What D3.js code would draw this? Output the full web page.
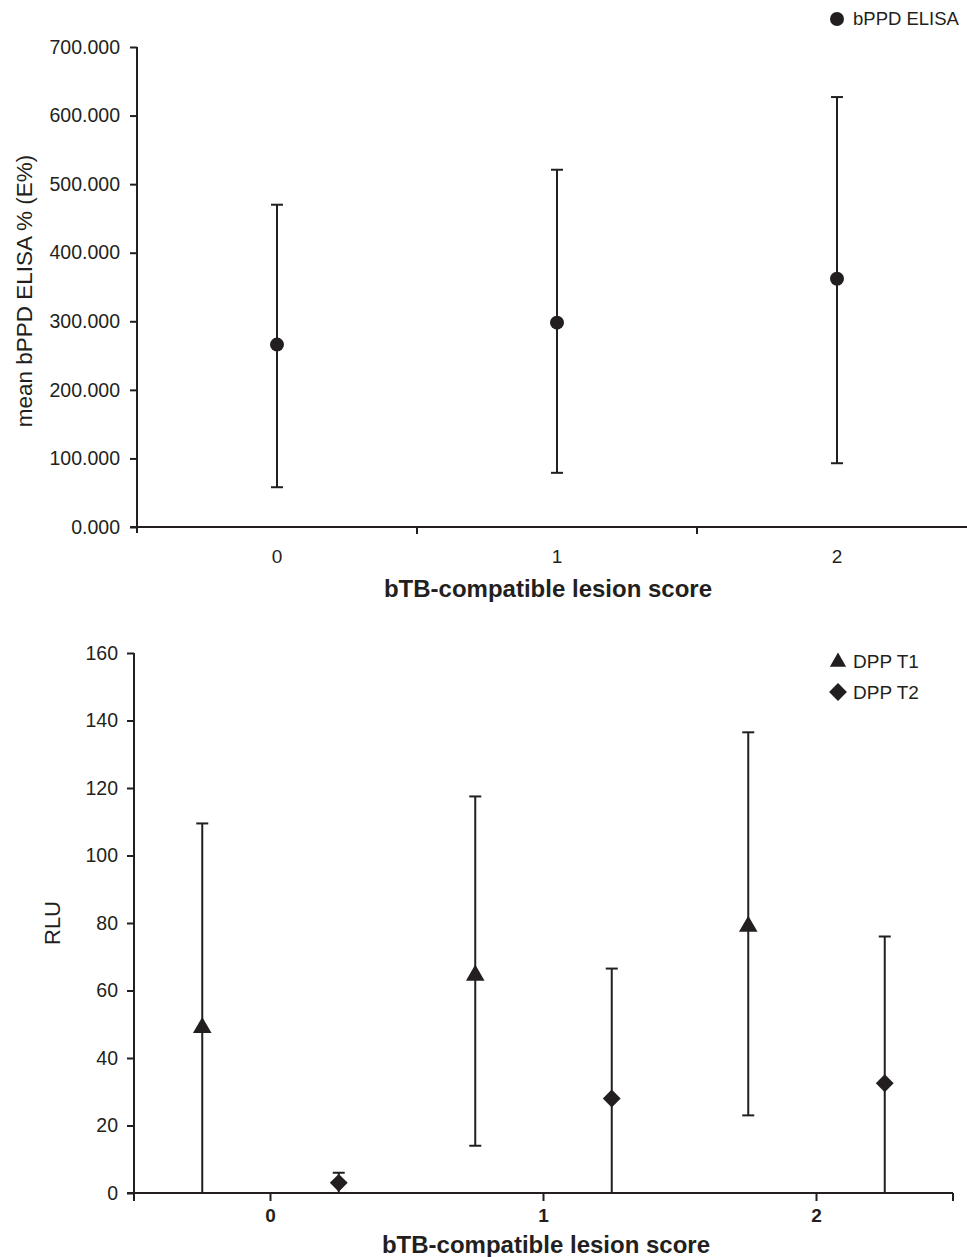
<!DOCTYPE html>
<meta charset="utf-8">
<style>
body { margin: 0; background: #fff; }
text { font-family: "Liberation Sans", Arial, sans-serif; fill: #231f20; }
.axis path, .axis line { stroke: #231f20; stroke-width: 2px; }
.err { stroke: #231f20; stroke-width: 2px; fill: none; }
</style>
<svg width="967" height="1257"></svg>
<script src="https://d3js.org/d3.v7.min.js"></script>
<script>
// lesion score categories
var scores = ["0", "1", "2"];

// top panel: bPPD ELISA
var elisaMean = [266, 298, 362];
var elisaUpper = [470, 521, 627];
var elisaLower = [58, 79, 93];
var elisaTicks = [0, 100, 200, 300, 400, 500, 600, 700];

// bottom panel: DPP T1 / T2 (RLU)
var t1Mean = [49, 64.5, 79];
var t1Upper = [109.5, 117.5, 136.5];
var t1Lower = [0, 14, 23];
var t2Mean = [3, 28, 32.5];
var t2Upper = [6, 66.5, 76];
var t2Lower = [0, 0, 0];
var rluTicks = [0, 20, 40, 60, 80, 100, 120, 140, 160];

var svg = d3.select("svg");
var ink = "#231f20";

function errBar(g, x, lo, hi, y, cap) {
  g.append("line").attr("class", "err")
    .attr("x1", x).attr("x2", x).attr("y1", y(lo)).attr("y2", y(hi));
  g.append("line").attr("class", "err")
    .attr("x1", x - cap).attr("x2", x + cap).attr("y1", y(hi)).attr("y2", y(hi));
  if (lo > 0) g.append("line").attr("class", "err")
    .attr("x1", x - cap).attr("x2", x + cap).attr("y1", y(lo)).attr("y2", y(lo));
}

// ---------- top chart ----------
var x1 = d3.scaleBand().domain(scores).range([137, 977]);
var y1 = d3.scaleLinear().domain([0, 700]).range([527, 47]);

var topG = svg.append("g");
topG.append("g").attr("class", "axis")
  .attr("transform", "translate(137,0)")
  .call(d3.axisLeft(y1).tickValues(elisaTicks).tickSize(7).tickSizeOuter(0)
    .tickFormat(d3.format(".3f")))
  .call(function(g) {
    g.selectAll("text").style("font-size", "19.5px").attr("x", -17);
    g.select(".domain").attr("d", "M0,47V533");
  });

var xa1 = topG.append("g").attr("class", "axis")
  .attr("transform", "translate(0,527)");
xa1.append("line").attr("x1", 130).attr("x2", 977).attr("y1", 0).attr("y2", 0);
xa1.selectAll(".tk").data([x1("1"), x1("2")]).enter().append("line")
  .attr("x1", function(d) { return d; }).attr("x2", function(d) { return d; })
  .attr("y1", 0).attr("y2", 7);
xa1.selectAll(".lbl").data(scores).enter().append("text")
  .attr("x", function(d) { return x1(d) + x1.bandwidth() / 2; })
  .attr("y", 36).attr("text-anchor", "middle").style("font-size", "19px")
  .text(function(d) { return d; });

scores.forEach(function(s, i) {
  var cx = x1(s) + x1.bandwidth() / 2;
  errBar(topG, cx, elisaLower[i], elisaUpper[i], y1, 6);
  topG.append("circle").attr("cx", cx).attr("cy", y1(elisaMean[i])).attr("r", 7)
    .attr("fill", ink);
});

topG.append("text").attr("x", 548).attr("y", 597).attr("text-anchor", "middle")
  .style("font-size", "24px").style("font-weight", "bold")
  .text("bTB-compatible lesion score");
topG.append("text").attr("transform", "translate(32,291) rotate(-90)")
  .attr("text-anchor", "middle").style("font-size", "22.5px")
  .text("mean bPPD ELISA % (E%)");

topG.append("circle").attr("cx", 837).attr("cy", 19).attr("r", 7).attr("fill", ink);
topG.append("text").attr("x", 853).attr("y", 25).style("font-size", "18.5px").text("bPPD ELISA");

// ---------- bottom chart ----------
var x2 = d3.scaleBand().domain(scores).range([134, 953]);
var off = d3.scaleLinear().domain([-0.5, 0.5]).range([-x2.bandwidth() / 2, x2.bandwidth() / 2]);
var y2 = d3.scaleLinear().domain([0, 160]).range([1193, 653]);

var bot = svg.append("g");
bot.append("g").attr("class", "axis")
  .attr("transform", "translate(134,0)")
  .call(d3.axisLeft(y2).tickValues(rluTicks).tickSize(7).tickSizeOuter(0))
  .call(function(g) {
    g.selectAll("text").style("font-size", "19.5px").attr("x", -16);
    g.select(".domain").attr("d", "M0,653V1201");
  });

var xa2 = bot.append("g").attr("class", "axis")
  .attr("transform", "translate(0,1193)");
xa2.append("line").attr("x1", 127).attr("x2", 953).attr("y1", 0).attr("y2", 0);
xa2.selectAll(".tk").data(scores).enter().append("line")
  .attr("x1", function(d) { return x2(d) + x2.bandwidth() / 2; })
  .attr("x2", function(d) { return x2(d) + x2.bandwidth() / 2; })
  .attr("y1", 0).attr("y2", 8);
xa2.append("line").attr("x1", 953).attr("x2", 953).attr("y1", 0).attr("y2", 8);
xa2.selectAll(".lbl").data(scores).enter().append("text")
  .attr("x", function(d) { return x2(d) + x2.bandwidth() / 2; })
  .attr("y", 29).attr("text-anchor", "middle").style("font-size", "19px")
  .style("font-weight", "bold")
  .text(function(d) { return d; });

var tri = d3.symbol().type(d3.symbolTriangle).size(150);
var dia = d3.symbol().type(d3.symbolSquare).size(160);

scores.forEach(function(s, i) {
  var c = x2(s) + x2.bandwidth() / 2;
  var xa = c + off(-0.25), xb = c + off(0.25);
  errBar(bot, xa, t1Lower[i], t1Upper[i], y2, 6);
  errBar(bot, xb, t2Lower[i], t2Upper[i], y2, 6);
  bot.append("path").attr("d", tri).attr("fill", ink)
    .attr("transform", "translate(" + xa + "," + y2(t1Mean[i]) + ")");
  bot.append("path").attr("d", dia).attr("fill", ink)
    .attr("transform", "translate(" + xb + "," + y2(t2Mean[i]) + ") rotate(45)");
});

bot.append("text").attr("x", 546).attr("y", 1253).attr("text-anchor", "middle")
  .style("font-size", "24px").style("font-weight", "bold")
  .text("bTB-compatible lesion score");
bot.append("text").attr("transform", "translate(60,923) rotate(-90)")
  .attr("text-anchor", "middle").style("font-size", "22px").text("RLU");

bot.append("path").attr("d", d3.symbol().type(d3.symbolTriangle).size(115))
  .attr("fill", ink).attr("transform", "translate(838,662)");
bot.append("text").attr("x", 853).attr("y", 668).style("font-size", "19px").text("DPP T1");
bot.append("path").attr("d", d3.symbol().type(d3.symbolSquare).size(160))
  .attr("fill", ink).attr("transform", "translate(838,692) rotate(45)");
bot.append("text").attr("x", 853).attr("y", 699).style("font-size", "19px").text("DPP T2");
</script>
